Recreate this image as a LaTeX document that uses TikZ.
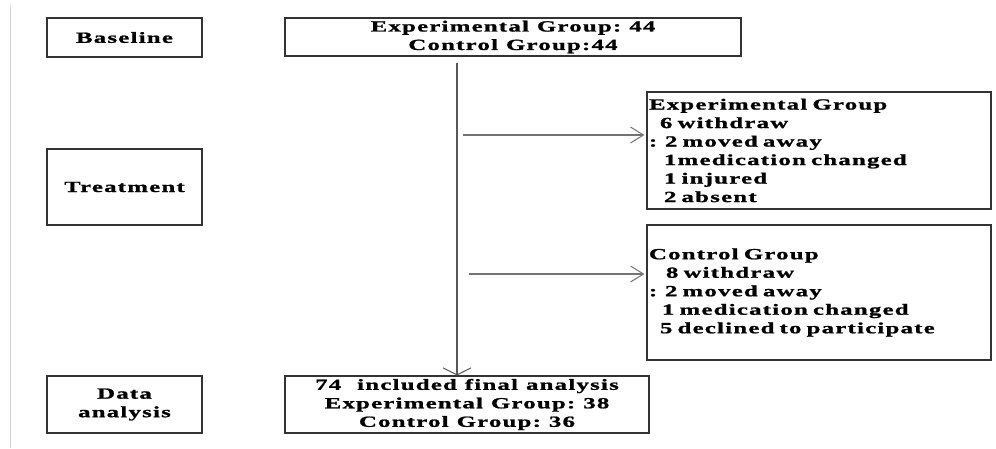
\documentclass[tikz,border=0pt]{standalone}
\usepackage{fontspec}
\newfontfamily\bt[FakeStretch=1.6,LetterSpace=8,FakeBold=1.2]{Liberation Serif}
\newcommand\btfont{\bt\bfseries\fontsize{15.5}{18.5}\selectfont\spaceskip=8pt\relax\xspaceskip=8pt\relax}
\usetikzlibrary{arrows.meta}
\begin{document}
\begin{tikzpicture}[x=1pt,y=-1pt,
  txt/.style={font=\btfont},
  box/.style={txt, draw=black!80, line width=1.1pt, inner sep=0pt},
  sidebox/.style={box, text width=340pt, inner xsep=2pt, align=left, minimum width=344pt},
  conn/.style={draw=black!55, line width=1.2pt},
  harr/.style={conn, -{Straight Barb[length=13pt,width=16pt,line width=1pt]}, shorten >=2pt},
  varr/.style={draw=black!65, line width=1.5pt, -{Straight Barb[length=7pt,width=28pt,line width=1pt]}}
]
\useasboundingbox (0,0) rectangle (996,448);
\draw[black!18, line width=1pt] (10,5) -- (10,448);

% stage labels
\node[box, minimum width=155pt, minimum height=39pt, align=center] (base) at (124.5,37.5) {Baseline};
\node[box, minimum width=155pt, minimum height=76pt, align=center] (treat) at (124.5,187) {Treatment};
\node[box, minimum width=155pt, minimum height=57pt, align=center] (data) at (124.5,404.5) {Data\\analysis};

% main flow
\node[box, minimum width=456pt, minimum height=38pt, align=center] (start) at (513,37) {Experimental Group: 44\\Control Group:44};
\node[box, minimum width=364pt, minimum height=57pt, align=center] (fin) at (467,404.5) {74\ \ included final analysis\\Experimental Group: 38\\Control Group: 36};

% withdrawals
\node[sidebox, minimum height=117pt] (exp) at (819,150.5) {Experimental Group\\\hspace*{11pt}6 withdraw\\: 2 moved away\\\hspace*{15pt}1medication changed\\\hspace*{15pt}1 injured\\\hspace*{15pt}2 absent};
\node[sidebox, minimum height=135pt] (ctl) at (819,292.5) {Control Group\\\hspace*{17pt}8 withdraw\\: 2 moved away\\\hspace*{13pt}1 medication changed\\\hspace*{11pt}5 declined to participate};

% connectors
\coordinate (v0) at (457,63);
\draw[varr] (v0) -- (v0 |- fin.north);
\coordinate (a1) at (463,135);
\draw[harr] (a1) -- (a1 -| exp.west);
\coordinate (a2) at (469,274);
\draw[harr] (a2) -- (a2 -| ctl.west);
\end{tikzpicture}
\end{document}
